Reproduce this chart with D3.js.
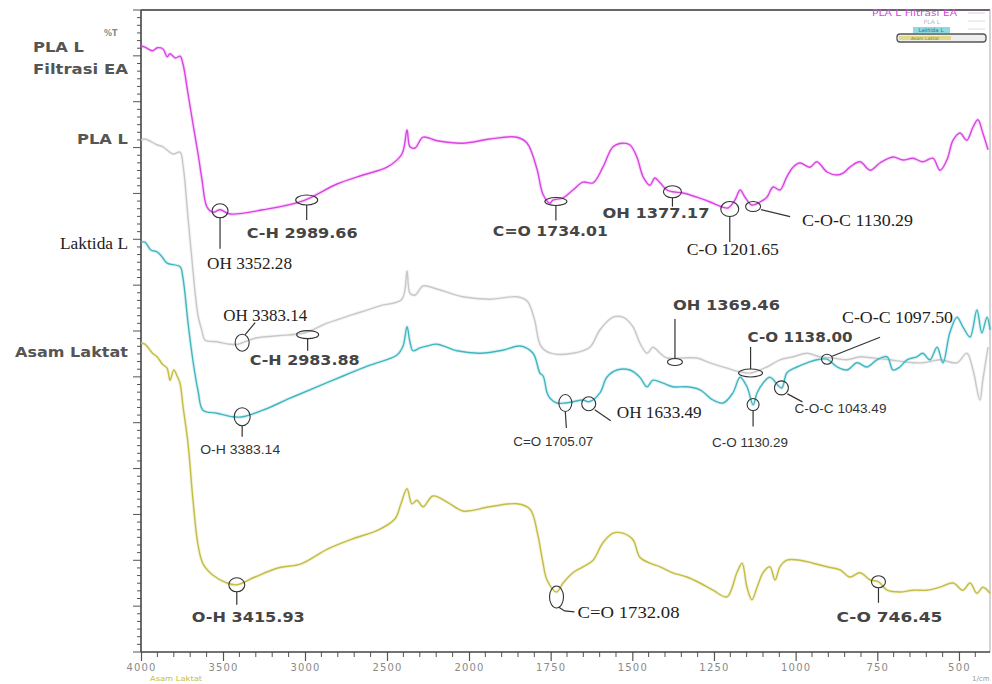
<!DOCTYPE html>
<html>
<head>
<meta charset="utf-8">
<script src="https://cdn.jsdelivr.net/npm/d3@7"></script>
<style>
  html, body { margin: 0; padding: 0; background: #fff; }
  svg { display: block; }
</style>
</head>
<body>
<svg id="chart" width="992" height="684"></svg>
<script>
// FTIR spectra: [wavenumber (1/cm), %T (stacked, arbitrary offset)]
const plaFiltrasiEA = [[4000,101.0],[3976,100.8],[3930,100.2],[3900,100.7],[3866,100.5],[3840,99.2],[3823,99.7],[3790,99.0],[3762,99.3],[3744,98.0],[3713,93.0],[3683,88.0],[3652,83.0],[3628,78.7],[3598,74.2],[3561,73.3],[3518,73.7],[3457,73.0],[3256,73.7],[3012,75.2],[2805,78.0],[2646,79.5],[2500,80.8],[2409,83.0],[2378,87.0],[2360,84.2],[2329,84.0],[2280,85.8],[2195,85.2],[2037,84.8],[1936,85.5],[1853,85.8],[1822,84.8],[1792,80.5],[1773,76.2],[1752,74.8],[1743,75.3],[1712,75.7],[1682,77.0],[1651,78.3],[1620,78.2],[1590,80.8],[1559,84.2],[1529,84.8],[1507,84.5],[1486,82.5],[1467,79.2],[1446,77.8],[1431,79.0],[1415,78.2],[1394,77.0],[1376,76.7],[1345,76.5],[1302,75.8],[1262,75.0],[1226,74.2],[1207,74.0],[1186,75.3],[1170,77.0],[1155,75.8],[1134,74.5],[1109,75.0],[1088,75.8],[1069,77.5],[1048,77.0],[1027,79.2],[1008,80.8],[987,81.5],[956,80.8],[935,81.7],[904,80.0],[873,79.5],[855,79.8],[834,80.8],[803,81.7],[772,80.3],[742,81.5],[702,82.5],[671,82.0],[641,82.3],[611,81.7],[580,82.3],[558,80.3],[537,82.0],[518,85.3],[497,86.5],[476,85.3],[457,87.5],[442,88.7],[427,86.5],[411,83.7]];

const plaL = [[4000,85.3],[3976,85.5],[3900,84.5],[3866,84.2],[3805,83.0],[3762,83.3],[3744,81.2],[3713,72.3],[3683,63.5],[3652,56.0],[3628,53.5],[3610,52.0],[3537,51.7],[3457,51.3],[3409,51.3],[3305,52.3],[3165,52.7],[3000,53.2],[2866,54.8],[2701,56.3],[2543,57.7],[2409,58.8],[2378,63.5],[2360,59.8],[2329,59.5],[2280,61.0],[2195,60.5],[2037,59.2],[1936,58.8],[1853,59.2],[1822,58.5],[1800,55.5],[1780,51.0],[1750,49.8],[1682,49.8],[1630,50.8],[1599,53.7],[1559,55.8],[1529,55.8],[1498,54.2],[1477,51.5],[1455,49.8],[1437,50.8],[1415,49.8],[1394,49.0],[1345,49.0],[1302,49.0],[1262,48.2],[1210,47.3],[1170,46.7],[1138,46.5],[1088,47.5],[1048,48.7],[1008,49.2],[965,49.8],[926,49.2],[886,49.0],[843,48.7],[803,49.2],[763,49.0],[711,48.7],[659,48.3],[611,48.2],[558,48.7],[506,48.2],[476,49.8],[457,47.0],[436,42.0],[427,45.3],[411,50.8]];

const laktidaL = [[4000,68.3],[3976,68.3],[3940,67.0],[3902,66.7],[3870,65.8],[3841,64.8],[3762,64.2],[3744,62.3],[3713,54.8],[3683,48.5],[3652,43.5],[3622,40.3],[3537,39.8],[3439,39.2],[3378,39.2],[3256,40.3],[3091,42.3],[2927,44.2],[2768,46.0],[2604,47.8],[2439,49.5],[2402,51.0],[2378,54.2],[2360,51.7],[2341,50.2],[2299,50.7],[2256,51.0],[2195,51.3],[2073,50.2],[1966,49.8],[1896,50.3],[1844,51.0],[1804,49.8],[1783,46.5],[1773,46.0],[1761,43.2],[1752,42.3],[1731,41.5],[1705,41.5],[1682,41.7],[1651,42.0],[1633,41.7],[1599,43.2],[1578,45.8],[1547,47.0],[1507,47.0],[1477,45.8],[1455,44.2],[1437,45.3],[1406,44.8],[1376,44.2],[1333,44.2],[1293,43.7],[1253,42.0],[1222,41.5],[1192,43.2],[1170,45.8],[1149,44.2],[1130,41.2],[1118,43.2],[1100,44.8],[1079,45.8],[1043,44.0],[1027,46.5],[996,47.5],[965,48.2],[935,48.7],[904,48.8],[873,47.5],[843,47.0],[812,48.2],[782,47.5],[751,48.7],[720,49.2],[702,47.0],[681,47.5],[659,48.7],[629,49.2],[611,49.8],[589,48.7],[567,50.8],[549,48.2],[528,53.2],[506,55.8],[488,54.2],[466,52.5],[445,57.0],[430,53.2],[414,55.8],[405,53.7]];

const asamLaktat = [[4000,51.5],[3976,51.3],[3930,49.8],[3902,49.2],[3870,48.0],[3841,47.3],[3823,45.3],[3800,47.0],[3780,46.0],[3762,44.8],[3744,41.0],[3713,34.7],[3683,25.3],[3652,17.8],[3622,14.7],[3561,12.8],[3476,11.5],[3416,11.2],[3305,12.5],[3165,14.0],[3024,14.7],[2860,17.2],[2695,19.0],[2555,20.3],[2451,22.2],[2415,24.7],[2378,27.2],[2348,24.7],[2317,25.3],[2280,24.2],[2220,26.0],[2116,24.7],[2037,23.5],[1936,24.2],[1853,24.7],[1813,23.8],[1790,19.7],[1775,15.3],[1761,12.0],[1732,10.0],[1712,11.5],[1682,13.2],[1651,14.2],[1620,15.3],[1590,18.2],[1559,19.8],[1529,19.8],[1498,18.7],[1477,15.8],[1446,14.8],[1415,14.2],[1376,13.2],[1333,12.5],[1293,11.5],[1253,10.3],[1210,9.2],[1180,13.2],[1164,14.8],[1149,10.8],[1134,8.7],[1118,10.8],[1100,13.2],[1079,14.2],[1063,12.0],[1048,14.2],[1027,15.3],[987,15.3],[947,14.8],[904,14.2],[864,13.7],[834,12.5],[803,13.2],[772,12.0],[746,11.7],[720,10.3],[681,10.0],[641,10.3],[598,10.3],[558,10.8],[518,11.5],[488,10.3],[466,11.5],[445,9.8],[427,10.8],[405,9.8]];

const seriesNames = ['PLA L Filtrasi EA', 'PLA L', 'Laktida L', 'Asam Laktat'];
const seriesColors = ['#d944e2', '#c8c8c8', '#40b6c2', '#c3bd42'];
const majorTicks = [4000, 3500, 3000, 2500, 2000, 1750, 1500, 1250, 1000, 750, 500];

// Peak assignments: marker wavenumber on the curve, label text
const peakLabels = [
  {s: 0, at: 3518,    text: 'OH 3352.28'},
  {s: 0, at: 2989.66, text: 'C-H 2989.66'},
  {s: 0, at: 1734.01, text: 'C=O 1734.01'},
  {s: 0, at: 1377.17, text: 'OH 1377.17'},
  {s: 0, at: 1201.65, text: 'C-O 1201.65'},
  {s: 0, at: 1130.29, text: 'C-O-C 1130.29'},
  {s: 1, at: 3383.14, text: 'OH 3383.14'},
  {s: 1, at: 2983.88, text: 'C-H 2983.88'},
  {s: 1, at: 1369.46, text: 'OH 1369.46'},
  {s: 1, at: 1138.00, text: 'C-O 1138.00'},
  {s: 2, at: 904,     text: 'C-O-C 1097.50'},
  {s: 2, at: 3383.14, text: 'O-H 3383.14'},
  {s: 2, at: 1705.07, text: 'C=O 1705.07'},
  {s: 2, at: 1633.49, text: 'OH 1633.49'},
  {s: 2, at: 1130.29, text: 'C-O 1130.29'},
  {s: 2, at: 1043.49, text: 'C-O-C 1043.49'},
  {s: 3, at: 3415.93, text: 'O-H 3415.93'},
  {s: 3, at: 1732.08, text: 'C=O 1732.08'},
  {s: 3, at: 746.45,  text: 'C-O 746.45'}
];

// Layout of each peak label: font style, marker radii, marker nudge,
// leader polyline (relative to marker), label offset and width
const peakLayout = [
  {font: 'serif', r: [8, 7],     dy: 1, path: [[0, 7], [0, 38]],          lx: -13, ly: 52,  w: 85},
  {font: 'bold',  r: [11, 5],    dy: 1, path: [[0, 5], [0, 20]],          lx: -60, ly: 33,  w: 111},
  {font: 'bold',  r: [11, 4],    dy: 2, path: [[0, 4], [0, 19]],          lx: -63, ly: 30,  w: 115},
  {font: 'bold',  r: [9, 6],     dy: 0, path: [[0, 6], [0, 15]],          lx: -70, ly: 21,  w: 107},
  {font: 'serif', r: [9, 7.5],   dy: 3, path: [[0, 7.5], [0, 33]],        lx: -43, ly: 40,  w: 92},
  {font: 'serif', r: [7.5, 5],   dy: 2, path: [[8, 3], [37, 10]],         lx: 49,  ly: 13,  w: 111},
  {font: 'serif', r: [7, 8.5],   dy: 0, path: [[3, -8], [13, -20]],       lx: -19, ly: -28, w: 84},
  {font: 'bold',  r: [11, 4],    dy: 3, path: [[0, 4], [0, 16]],          lx: -58, ly: 25,  w: 110},
  {font: 'bold',  r: [7.5, 3.5], dy: 4, path: [[0, -3.5], [0, -43]],      lx: -2,  ly: -57, w: 107},
  {font: 'bold',  r: [12, 4],    dy: 0, path: [[0, -4], [0, -26]],        lx: -3,  ly: -36, w: 105},
  {font: 'serif', r: [5.5, 5],   dy: 0, path: [[5, -3], [53, -22]],       lx: 15,  ly: -42, w: 111},
  {font: 'small', r: [8, 9],     dy: 0, path: [[0, 9], [0, 20]],          lx: -42, ly: 33,  w: 80},
  {font: 'small', r: [6.5, 8.5], dy: 0, path: [[0, 8.5], [1, 25]],        lx: -52, ly: 39,  w: 80},
  {font: 'serif', r: [7, 7],     dy: 2, path: [[6, 6], [22, 17]],         lx: 28,  ly: 8,   w: 85},
  {font: 'small', r: [6, 6],     dy: 0, path: [[0, 6], [0, 22]],          lx: -41, ly: 38,  w: 76},
  {font: 'small', r: [7, 7],     dy: 0, path: [[6, 6], [21, 14]],         lx: 13,  ly: 21,  w: 92},
  {font: 'bold',  r: [8, 7],     dy: 0, path: [[0, 7], [0, 20]],          lx: -45, ly: 32,  w: 113},
  {font: 'serif', r: [7, 11],    dy: 5, path: [[2, 10], [8, 14], [18, 15]], lx: 21, ly: 15, w: 102},
  {font: 'bold',  r: [7, 6],     dy: 0, path: [[0, 6], [0, 21]],          lx: -42, ly: 35,  w: 106}
];

const fontStyles = {
  bold:  {family: '"DejaVu Sans", Verdana, sans-serif', size: 14, weight: 'bold', fill: '#454545'},
  serif: {family: '"Liberation Serif", "Times New Roman", serif', size: 17, weight: 'normal', fill: '#1e1e1e'},
  small: {family: '"Liberation Sans", Arial, sans-serif', size: 12.5, weight: 'normal', fill: '#333'}
};

const spectra = [plaFiltrasiEA, plaL, laktidaL, asamLaktat];

(function draw() {
  const svg = d3.select('#chart');
  const pLeft = 141, pRight = 990, pTop = 10, pBottom = 652;

  // Split wavenumber axis: 4000-2000 compressed, 2000-400 expanded
  const x = d3.scaleLinear().domain([4000, 2000, 405]).range([pLeft, 469, pRight]);
  const y = d3.scaleLinear().domain([0, 107]).range([pBottom, pTop]);

  function valueAt(data, w) {
    for (let i = 0; i < data.length - 1; i++) {
      const a = data[i], b = data[i + 1];
      if (w <= a[0] && w >= b[0]) {
        const f = (a[0] - w) / (a[0] - b[0]);
        return a[1] + f * (b[1] - a[1]);
      }
    }
    return data[data.length - 1][1];
  }

  // Frame
  svg.append('line').attr('x1', pLeft).attr('x2', pRight).attr('y1', pTop).attr('y2', pTop)
    .attr('stroke', '#666').attr('stroke-width', 2);
  svg.append('line').attr('x1', pRight).attr('x2', pRight).attr('y1', pTop).attr('y2', pBottom)
    .attr('stroke', '#aaa').attr('stroke-width', 1);

  // Left (%T) axis with minor/major ticks
  const yTicks = d3.range(0, 85).map(i => i * 107 / 84);
  svg.append('g').selectAll('line').data(yTicks).join('line')
    .attr('x1', (d, i) => pLeft - (i % 6 === 0 ? 8 : 4)).attr('x2', pLeft)
    .attr('y1', d => y(d)).attr('y2', d => y(d))
    .attr('stroke', '#555').attr('stroke-width', 1);
  svg.append('line').attr('x1', pLeft).attr('x2', pLeft).attr('y1', pTop).attr('y2', pBottom)
    .attr('stroke', '#444').attr('stroke-width', 1.6);

  // Bottom wavenumber axis
  const minorX = d3.range(4000, 2000, -100).concat(d3.range(2000, 440, -50))
    .filter(v => !majorTicks.includes(v));
  svg.append('g').selectAll('line').data(minorX).join('line')
    .attr('x1', d => x(d)).attr('x2', d => x(d))
    .attr('y1', pBottom).attr('y2', pBottom + 5)
    .attr('stroke', '#555').attr('stroke-width', 1);
  const gx = svg.append('g').attr('transform', `translate(0,${pBottom})`)
    .call(d3.axisBottom(x).tickValues(majorTicks).tickSize(9).tickPadding(3).tickFormat(d3.format('d')));
  gx.select('.domain').remove();
  gx.selectAll('.tick line').attr('stroke', '#555').attr('stroke-width', 1.2);
  gx.selectAll('.tick text')
    .attr('font-family', '"DejaVu Sans", sans-serif').attr('font-size', 10)
    .attr('letter-spacing', '1.2px').attr('fill', '#8a8a8a');
  svg.append('line').attr('x1', pLeft).attr('x2', pRight).attr('y1', pBottom).attr('y2', pBottom)
    .attr('stroke', '#444').attr('stroke-width', 1.6);

  svg.append('text').attr('x', 972).attr('y', 681).text('1/cm')
    .attr('font-family', '"DejaVu Sans", sans-serif').attr('font-size', 7).attr('fill', '#999');
  svg.append('text').attr('x', 150).attr('y', 681).text(seriesNames[3])
    .attr('font-family', '"DejaVu Sans", sans-serif').attr('font-size', 7).attr('fill', seriesColors[3])
    .attr('textLength', 52).attr('lengthAdjust', 'spacingAndGlyphs');
  svg.append('text').attr('x', 104).attr('y', 36).text('%T')
    .attr('font-family', '"DejaVu Sans", sans-serif').attr('font-size', 8).attr('font-weight', 'bold').attr('fill', '#888');

  // Spectra
  const line = d3.line().x(d => x(d[0])).y(d => y(d[1])).curve(d3.curveCatmullRom.alpha(0.5));
  const gLines = svg.append('g');
  spectra.forEach((data, i) => {
    gLines.append('path').datum(data).attr('d', line).attr('fill', 'none')
      .attr('stroke', seriesColors[i]).attr('stroke-width', 3.5).attr('stroke-opacity', 0.18)
      .attr('stroke-linejoin', 'round');
    gLines.append('path').datum(data).attr('d', line).attr('fill', 'none')
      .attr('stroke', seriesColors[i]).attr('stroke-width', 1.4)
      .attr('stroke-linejoin', 'round');
  });

  // Series names at the left
  const sideLabels = [
    {text: 'PLA L', x: 33, anchor: 'start', dy: 1, font: 'bold', w: 51},
    {text: 'Filtrasi EA', x: 33, anchor: 'start', dy: 23, font: 'bold', w: 95},
    {text: seriesNames[1], x: 128, anchor: 'end', dy: -1, font: 'bold', w: 51},
    {text: seriesNames[2], x: 128, anchor: 'end', dy: 1, font: 'serifSide', w: 68},
    {text: seriesNames[3], x: 128, anchor: 'end', dy: 9, font: 'bold', w: 113}
  ];
  const sideSeries = [0, 0, 1, 2, 3];
  sideLabels.forEach((d, i) => {
    const st = d.font === 'bold' ? fontStyles.bold
      : {family: fontStyles.serif.family, size: 16, weight: 'normal', fill: '#222'};
    svg.append('text')
      .attr('x', d.x).attr('y', y(spectra[sideSeries[i]][0][1]) + d.dy).attr('dy', '0.35em')
      .attr('text-anchor', d.anchor)
      .attr('font-family', st.family).attr('font-size', st.size).attr('font-weight', st.weight)
      .attr('fill', d.font === 'bold' ? '#555' : st.fill)
      .attr('textLength', d.w).attr('lengthAdjust', 'spacingAndGlyphs')
      .text(d.text);
  });

  // Peak markers, leaders and labels
  const gPeaks = svg.append('g');
  peakLabels.forEach((p, i) => {
    const L = peakLayout[i];
    const mx = x(p.at);
    const my = y(valueAt(spectra[p.s], p.at)) + L.dy;
    gPeaks.append('ellipse').attr('cx', mx).attr('cy', my).attr('rx', L.r[0]).attr('ry', L.r[1])
      .attr('fill', 'none').attr('stroke', '#333').attr('stroke-width', 1.1);
    gPeaks.append('path')
      .attr('d', d3.line()(L.path.map(q => [mx + q[0], my + q[1]])))
      .attr('fill', 'none').attr('stroke', '#333').attr('stroke-width', 1.2);
    const st = fontStyles[L.font];
    gPeaks.append('text')
      .attr('x', mx + L.lx).attr('y', my + L.ly).attr('dy', '0.35em')
      .attr('font-family', st.family).attr('font-size', st.size).attr('font-weight', st.weight)
      .attr('fill', st.fill)
      .attr('textLength', L.w).attr('lengthAdjust', 'spacingAndGlyphs')
      .text(p.text);
  });

  // Small legend box at the top right
  const gLeg = svg.append('g').attr('font-family', '"DejaVu Sans", sans-serif');
  gLeg.append('text').attr('x', 957).attr('y', 16).attr('text-anchor', 'end')
    .attr('font-size', 8).attr('fill', seriesColors[0])
    .attr('textLength', 85).attr('lengthAdjust', 'spacingAndGlyphs').text(seriesNames[0]);
  gLeg.append('text').attr('x', 940).attr('y', 24).attr('text-anchor', 'end')
    .attr('font-size', 6).attr('fill', '#bbb').text(seriesNames[1]);
  gLeg.append('rect').attr('x', 913).attr('y', 27).attr('width', 37).attr('height', 6)
    .attr('fill', '#8fd9e2');
  gLeg.append('text').attr('x', 931).attr('y', 32).attr('text-anchor', 'middle')
    .attr('font-size', 5.5).attr('fill', '#2f7f88').text(seriesNames[2]);
  gLeg.append('rect').attr('x', 897).attr('y', 34).attr('width', 89).attr('height', 8).attr('rx', 3)
    .attr('fill', '#eee').attr('stroke', '#555').attr('stroke-width', 1.3);
  gLeg.append('rect').attr('x', 899).attr('y', 36).attr('width', 52).attr('height', 4)
    .attr('fill', '#e0da8a');
  gLeg.append('text').attr('x', 925).attr('y', 40).attr('text-anchor', 'middle')
    .attr('font-size', 4.5).attr('fill', '#8a8530').text(seriesNames[3]);
  [13, 21, 29].forEach((yy, i) => {
    gLeg.append('line').attr('x1', 968).attr('x2', 985).attr('y1', yy).attr('y2', yy)
      .attr('stroke', i === 0 ? '#e7c4ea' : '#ddd').attr('stroke-width', 1);
  });
})();
</script>
</body>
</html>
